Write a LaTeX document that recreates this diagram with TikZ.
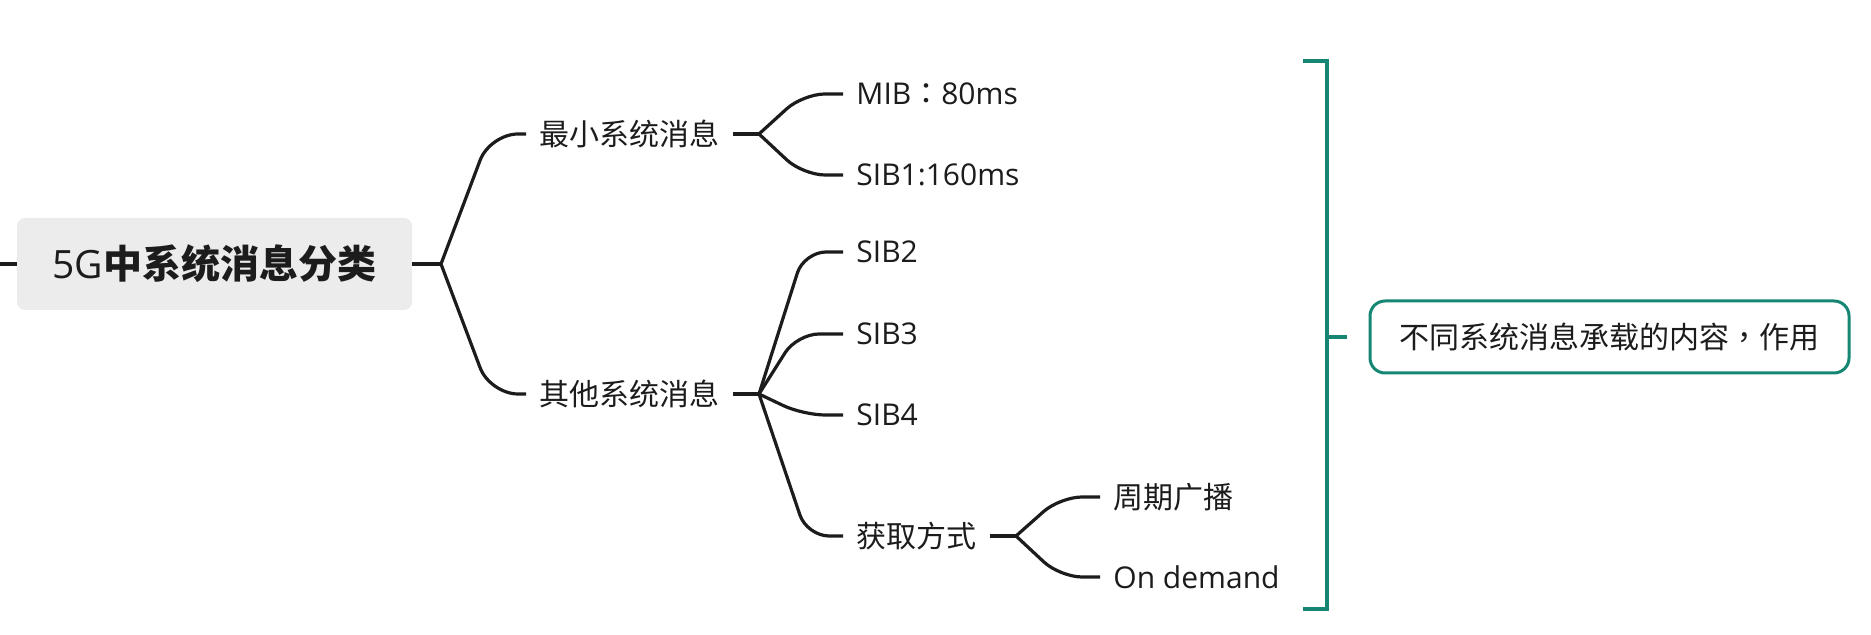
\documentclass[tikz,border=0pt]{standalone}
\usepackage{fontspec}
\setmainfont{Noto Sans CJK SC}
\newfontfamily\latin{Open Sans}
\newfontfamily\punct{Noto Sans CJK TC}
\usepackage{tikz}
\usetikzlibrary{positioning}
\definecolor{ink}{RGB}{28,28,28}
\definecolor{brk}{RGB}{22,134,116}
\definecolor{rootgray}{RGB}{236,236,236}
\tikzstyle{topic}=[anchor=west, inner xsep=6.5pt, inner ysep=2pt, text=ink, font=\fontsize{15}{18}\selectfont]
\tikzstyle{central}=[rounded corners=4pt, fill=rootgray, minimum width=197.5pt, minimum height=46pt, text=ink, font=\fontsize{19.5}{23}\selectfont]
\tikzstyle{link}=[draw=ink, line width=1.6pt, rounded corners=11pt]
\tikzstyle{bracket}=[draw=brk, line width=1.8pt]
\tikzstyle{note}=[draw=brk, line width=1.5pt, rounded corners=7.5pt, minimum width=239.5pt, minimum height=36pt, text=ink, font=\fontsize{15}{18}\selectfont]

\begin{document}
\begin{tikzpicture}[x=0.5pt, y=0.5pt]
  % canvas
  \fill[white] (0,0) rectangle (1871,635);
  \useasboundingbox (0,0) rectangle (1871,635);

  % central topic
  \node[central] (root) at (214.5,371) {{\latin 5G}\textbf{中系统消息分类}};
  \coordinate (in) at (0,371);
  \draw[link] (in) -- (root.west);

  % main branches
  \node[topic] (mini) at (526,501) {最小系统消息};
  \node[topic] (other) at (526,241) {其他系统消息};
  \coordinate (b0) at (441,371);
  \draw[link] (root.east) -- (b0);
  \draw[link, rounded corners=14pt] (b0) -- ++(49,130) -- (mini.west);
  \draw[link, rounded corners=14pt] (b0) -- ++(49,-130) -- (other.west);

  % minimum SI
  \node[topic] (mib) at (843,541) {{\latin MIB}{\punct ：}{\latin 80ms}};
  \node[topic] (sib1) at (843,460) {\latin SIB1:160ms};
  \coordinate (b1) at (759,501);
  \draw[link] (mini.east) -- (b1);
  \draw[link] (b1) -- ++(44,40) -- (mib.west);
  \draw[link] (b1) -- ++(44,-41) -- (sib1.west);

  % other SI, using a loop
  \coordinate (b2) at (759,241);
  \draw[link] (other.east) -- (b2);
  \foreach \n/\y/\dx in {2/383/45, 3/301/38, 4/220/44}{
    \node[topic] (sib\n) at (843,\y) {\latin SIB\n};
    \draw[link] (b2) -- ++(\dx,\y-241) -- (sib\n.west);
  }
  \node[topic] (get) at (843,99) {获取方式};
  \draw[link] (b2) -- ++(48,-142) -- (get.west);

  % acquisition
  \node[topic] (period) at (1100,138) {周期广播};
  \node[topic] (demand) at (1100,58) {\latin On demand};
  \coordinate (b3) at (1016,99);
  \draw[link] (get.east) -- (b3);
  \draw[link] (b3) -- ++(44,39) -- (period.west);
  \draw[link] (b3) -- ++(44,-41) -- (demand.west);

  % summary bracket
  \node[note] (note) at (1609.5,298) {不同系统消息承载的内容{\punct ，}作用};
  \draw[bracket] (1303,574) -- (1327,574) -- (1327,26) -- (1303,26);
  \draw[bracket] (1327,298) -- ([xshift=-11pt]note.west);
\end{tikzpicture}
\end{document}
